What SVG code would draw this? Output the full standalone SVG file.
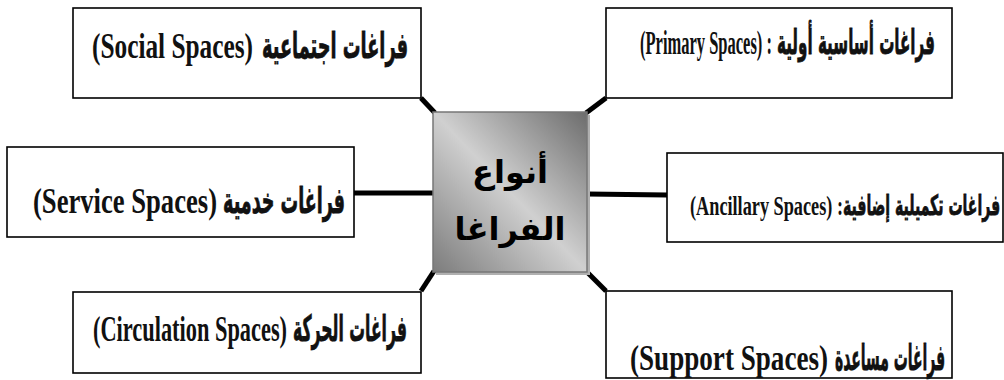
<svg xmlns="http://www.w3.org/2000/svg" width="1004" height="380" viewBox="0 0 1004 380">
<style>
.box{fill:#fff;stroke:#000;stroke-width:1.6}
.en{font-family:"Liberation Serif","DejaVu Serif",serif;font-weight:bold;fill:#111}
.ar{font-family:"DejaVu Sans","Liberation Sans",sans-serif;font-weight:bold;fill:#111;stroke:#111;stroke-width:0.8}
.conn{stroke:#000;stroke-width:5;fill:none;stroke-linecap:butt}
.ctr{font-family:"DejaVu Sans","Liberation Sans",sans-serif;font-weight:bold;fill:#000;font-size:32px;text-anchor:middle}
</style>
<defs>
<linearGradient id="g" x1="0" y1="1" x2="1" y2="0">
<stop offset="0" stop-color="#7c7c7c"/>
<stop offset="0.5" stop-color="#d0d0d0"/>
<stop offset="1" stop-color="#6c6c6c"/>
</linearGradient>
</defs>
<rect width="1004" height="380" fill="#fff"/>
<g id="connectors">
<line class="conn" x1="421" y1="98" x2="435" y2="113"/>
<line class="conn" x1="606" y1="98" x2="586" y2="113"/>
<line class="conn" x1="354" y1="193" x2="434" y2="193"/>
<line class="conn" x1="587" y1="194" x2="667" y2="195"/>
<line class="conn" x1="421" y1="291" x2="434" y2="271"/>
<line class="conn" x1="606" y1="291" x2="586" y2="271"/>
</g>
<g id="center">
<rect x="436" y="115" width="154" height="160" fill="#b0b0b0"/>
<rect x="433" y="112" width="154" height="160" fill="url(#g)" stroke="#777" stroke-width="1.5"/>
<text class="ctr" x="510" y="183">أنواع</text>
<text class="ctr" x="510" y="240">الفراغا</text>
</g>
<g id="social">
<rect class="box" x="73" y="8" width="348" height="90"/>
<text class="en" transform="translate(92 58) scale(0.703 1)" font-size="36" textLength="229" lengthAdjust="spacingAndGlyphs">(Social Spaces)</text>
<text class="ar" transform="translate(262 58) scale(0.495 1)" font-size="36" textLength="295" lengthAdjust="spacingAndGlyphs">فراغات اجتماعية</text>
</g>
<g id="primary">
<rect class="box" x="606" y="8" width="346" height="90"/>
<text class="en" transform="translate(640 54) scale(0.485 1)" font-size="34" textLength="272" lengthAdjust="spacingAndGlyphs">(Primary Spaces) :</text>
<text class="ar" transform="translate(777 54) scale(0.446 1)" font-size="34" textLength="354" lengthAdjust="spacingAndGlyphs">فراغات أساسية أولية</text>
</g>
<g id="service">
<rect class="box" x="7" y="147" width="347" height="90"/>
<text class="en" transform="translate(33 213) scale(0.739 1)" font-size="36" textLength="249" lengthAdjust="spacingAndGlyphs">(Service Spaces)</text>
<text class="ar" transform="translate(223 213) scale(0.513 1)" font-size="36" textLength="238" lengthAdjust="spacingAndGlyphs">فراغات خدمية</text>
</g>
<g id="ancillary">
<rect class="box" x="667" y="153" width="336" height="89"/>
<text class="en" transform="translate(690 215) scale(0.651 1)" font-size="28" textLength="235" lengthAdjust="spacingAndGlyphs">(Ancillary Spaces) :</text>
<text class="ar" transform="translate(843 215) scale(0.488 1)" font-size="28" textLength="322" lengthAdjust="spacingAndGlyphs">فراغات تكميلية إضافية</text>
</g>
<g id="circulation">
<rect class="box" x="73" y="292" width="348" height="81"/>
<text class="en" transform="translate(93 341) scale(0.620 1)" font-size="36" textLength="313" lengthAdjust="spacingAndGlyphs">(Circulation Spaces)</text>
<text class="ar" transform="translate(293 341) scale(0.445 1)" font-size="36" textLength="256" lengthAdjust="spacingAndGlyphs">فراغات الحركة</text>
</g>
<g id="support">
<rect class="box" x="606" y="291" width="346" height="87"/>
<text class="en" transform="translate(630 370) scale(0.753 1)" font-size="36" textLength="263" lengthAdjust="spacingAndGlyphs">(Support Spaces)</text>
<text class="ar" transform="translate(835 370) scale(0.43 1)" font-size="36" textLength="256" lengthAdjust="spacingAndGlyphs">فراغات مساعدة</text>
</g>
</svg>
